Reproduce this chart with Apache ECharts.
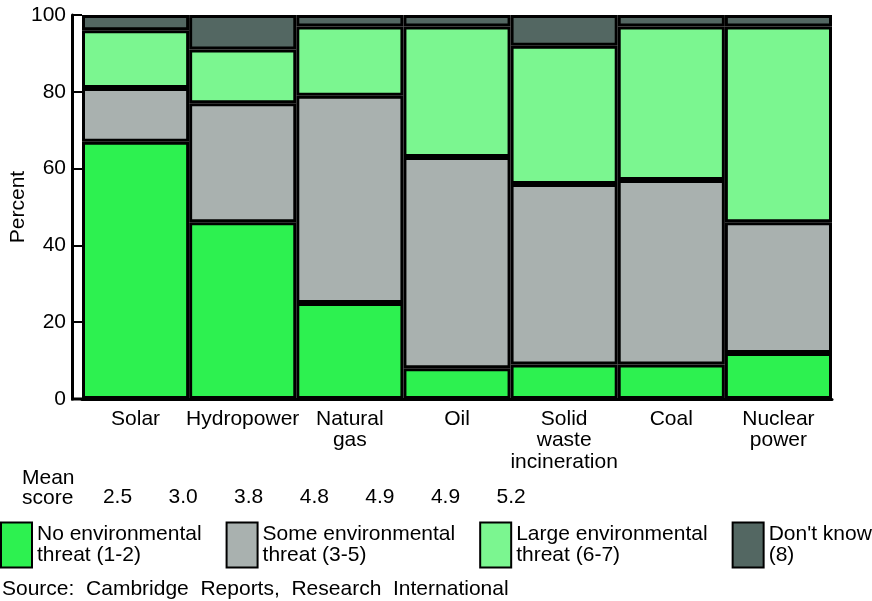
<!DOCTYPE html>
<html><head><meta charset="utf-8">
<script src="https://cdn.jsdelivr.net/npm/echarts@6/dist/echarts.min.js"></script>
<style>html,body{margin:0;padding:0;background:#fff}#c{width:872px;height:601px}</style>
</head><body><div id="c"></div>
<script>
var categories = ['Solar','Hydropower','Natural\ngas','Oil','Solid\nwaste\nincineration','Coal','Nuclear\npower'];
var noThreat    = [67, 46, 25,  8,  9,  9, 12];
var someThreat  = [14, 31, 54, 55, 47, 48, 34];
var largeThreat = [15, 14, 18, 34, 36, 40, 51];
var dontKnow    = [ 4,  9,  3,  3,  8,  3,  3];
var meanScores  = ['2.5','3.0','3.8','4.8','4.9','4.9','5.2'];
var yTicks = [0, 20, 40, 60, 80, 100];
var seriesNames = ['No environmental\nthreat (1-2)','Some environmental\nthreat (3-5)','Large environmental\nthreat (6-7)',"Don't know\n(8)"];
var colors = ['#2df150','#a9b1af','#7bf690','#536762'];

var FONT = 'Liberation Sans, Arial, sans-serif';
var FS = 21;
var chart = echarts.init(document.getElementById('c'), null, {renderer:'canvas'});
var dataSets = [noThreat, someThreat, largeThreat, dontKnow];
var series = dataSets.map(function(d, i){
  return {
    name: seriesNames[i], type: 'bar', stack: 'all', data: d,
    barCategoryGap: 0, barGap: 0,
    itemStyle: {color: colors[i], borderColor: '#000', borderWidth: 3},
    emphasis: {disabled: true}
  };
});
var graphics = [
  {type:'line', shape:{x1:71, y1:399, x2:84, y2:399}, style:{stroke:'#000', lineWidth:3}},
  {type:'line', shape:{x1:72, y1:15, x2:82, y2:15}, style:{stroke:'#bbb', lineWidth:1}},
  {type:'text', left: 22, top: 468, style:{text:'Mean\nscore', font:FS + 'px ' + FONT, fill:'#000', lineHeight:20}},
  {type:'text', x: 2, y: 589, style:{text:'Source:  Cambridge  Reports,  Research  International', font:FS + 'px ' + FONT, fill:'#000', verticalAlign:'middle'}}
];
meanScores.forEach(function(s, i){
  graphics.push({type:'text', x: 117.5 + i*65.6, y: 497, style:{text:s, font:FS + 'px ' + FONT, fill:'#000', align:'center', verticalAlign:'middle'}});
});
chart.setOption({
  animation: false,
  textStyle: {fontFamily: FONT},
  grid: {left: 82, right: 40, top: 15, bottom: 202, containLabel: false, outerBoundsMode: 'none'},
  legend: {
    left: 0, top: 521, itemWidth: 31, itemHeight: 45, itemGap: 24, padding: 0,
    icon: 'rect',
    textStyle: {fontSize: FS, color: '#000', lineHeight: 21, fontFamily: FONT, padding: [6, 0, 0, 0]},
    data: seriesNames, selectedMode: false
  },
  xAxis: {
    type: 'category', data: categories,
    axisLine: {lineStyle: {color: '#000', width: 3}},
    axisTick: {show: false},
    axisLabel: {color: '#000', fontSize: FS, lineHeight: 21.5, margin: 9, interval: 0, fontFamily: FONT}
  },
  yAxis: {
    type: 'value', min: 0, max: 100, interval: 20, offset: 10,
    name: 'Percent', nameLocation: 'middle', nameGap: 43, nameRotate: 90, nameMoveOverlap: false,
    nameTextStyle: {color: '#000', fontSize: FS, fontFamily: FONT},
    axisLine: {show: true, lineStyle: {color: '#000', width: 3}},
    axisTick: {show: true, inside: true, length: 10, lineStyle: {color: '#000', width: 2}},
    axisLabel: {color: '#000', fontSize: FS, margin: 6, fontFamily: FONT,
      formatter: function(v){ return yTicks.indexOf(v) >= 0 ? String(v) : ''; }},
    splitLine: {show: false}
  },
  series: series,
  graphic: graphics
});
</script></body></html>
